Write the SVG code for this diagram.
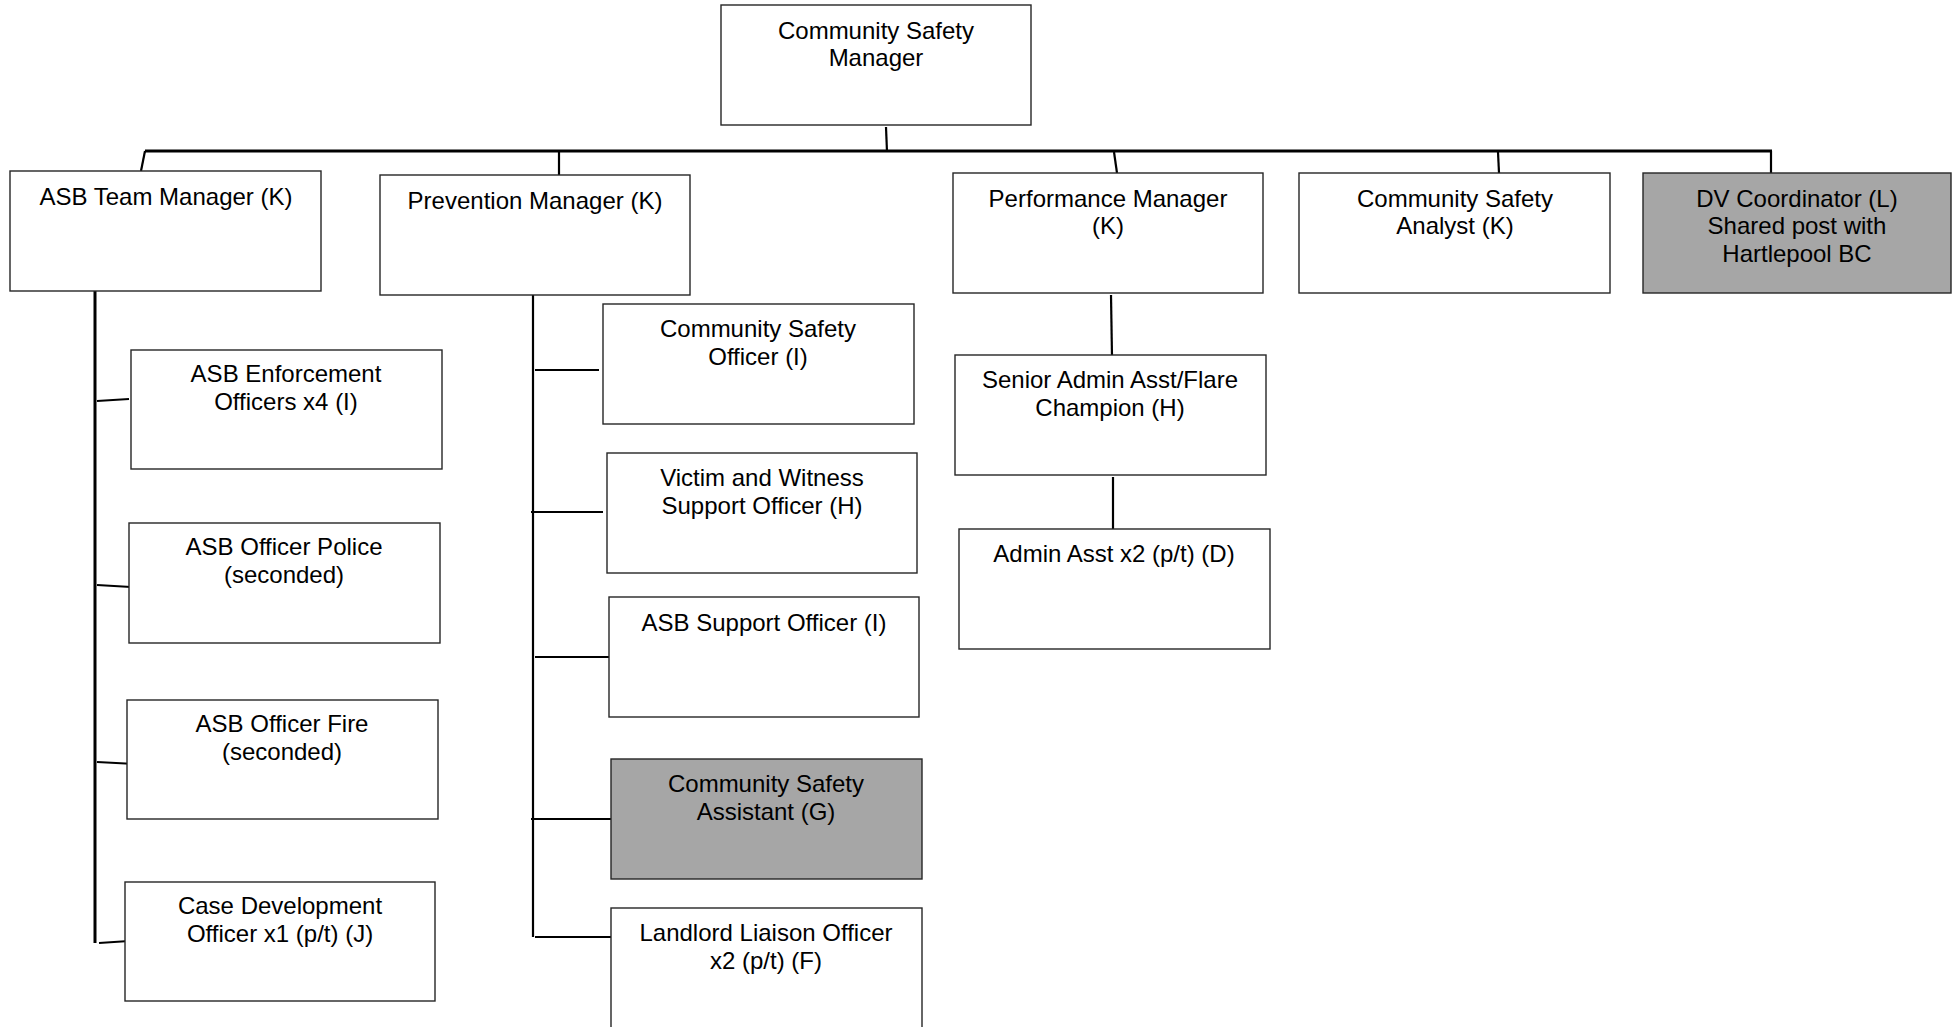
<svg xmlns="http://www.w3.org/2000/svg" width="1957" height="1027" viewBox="0 0 1957 1027">
<style>
.box{fill:#ffffff;stroke:#262626;stroke-width:1.4}
.grey{fill:#a6a6a6;stroke:#262626;stroke-width:1.4}
.lbl{font-family:"Liberation Sans",Arial,sans-serif;font-size:24px;fill:#000;text-anchor:middle}
.ln{stroke:#000;stroke-width:2.2;fill:none}
.bus{stroke:#000;stroke-width:3;fill:none}
</style>
<rect width="1957" height="1027" fill="#ffffff"/>
<g id="connectors">
<line class="ln" x1="886" y1="127" x2="887" y2="152"/>
<line class="bus" x1="145" y1="151" x2="1772" y2="151"/>
<line class="ln" x1="145" y1="151" x2="141" y2="171"/>
<line class="ln" x1="559" y1="152" x2="559" y2="175"/>
<line class="ln" x1="1114" y1="152" x2="1117" y2="173"/>
<line class="ln" x1="1498" y1="152" x2="1499" y2="173"/>
<line class="ln" x1="1771" y1="151" x2="1771" y2="173"/>
<line class="bus" x1="95" y1="291" x2="95" y2="943"/>
<line class="ln" x1="97" y1="401" x2="129" y2="399"/>
<line class="ln" x1="97" y1="585" x2="131" y2="587"/>
<line class="ln" x1="97" y1="762" x2="135" y2="764"/>
<line class="ln" x1="99" y1="943" x2="129" y2="941"/>
<line class="ln" x1="533" y1="295" x2="533" y2="937"/>
<line class="ln" x1="535" y1="370" x2="599" y2="370"/>
<line class="ln" x1="531" y1="512" x2="603" y2="512"/>
<line class="ln" x1="535" y1="657" x2="611" y2="657"/>
<line class="ln" x1="531" y1="819" x2="611" y2="819"/>
<line class="ln" x1="535" y1="937" x2="615" y2="937"/>
<line class="ln" x1="1111" y1="295" x2="1112" y2="357"/>
<line class="ln" x1="1113" y1="477" x2="1113" y2="532"/>
</g>
<g id="n-csm"><rect class="box" x="721" y="5" width="310" height="120"/><text class="lbl" x="876" y="38.5">Community Safety</text><text class="lbl" x="876" y="66">Manager</text></g>
<g id="n-asbtm"><rect class="box" x="10" y="171" width="311" height="120"/><text class="lbl" x="166" y="204.5">ASB Team Manager (K)</text></g>
<g id="n-prev"><rect class="box" x="380" y="175" width="310" height="120"/><text class="lbl" x="535" y="208.5">Prevention Manager (K)</text></g>
<g id="n-perf"><rect class="box" x="953" y="173" width="310" height="120"/><text class="lbl" x="1108" y="206.5">Performance Manager</text><text class="lbl" x="1108" y="234">(K)</text></g>
<g id="n-analyst"><rect class="box" x="1299" y="173" width="311" height="120"/><text class="lbl" x="1455" y="206.5">Community Safety</text><text class="lbl" x="1455" y="234">Analyst (K)</text></g>
<g id="n-dv"><rect class="grey" x="1643" y="173" width="308" height="120"/><text class="lbl" x="1797" y="206.5">DV Coordinator (L)</text><text class="lbl" x="1797" y="234">Shared post with</text><text class="lbl" x="1797" y="261.5">Hartlepool BC</text></g>
<g id="n-asbenf"><rect class="box" x="131" y="350" width="311" height="119"/><text class="lbl" x="286" y="382">ASB Enforcement</text><text class="lbl" x="286" y="410">Officers x4 (I)</text></g>
<g id="n-asbpol"><rect class="box" x="129" y="523" width="311" height="120"/><text class="lbl" x="284" y="555">ASB Officer Police</text><text class="lbl" x="284" y="583">(seconded)</text></g>
<g id="n-asbfire"><rect class="box" x="127" y="700" width="311" height="119"/><text class="lbl" x="282" y="732">ASB Officer Fire</text><text class="lbl" x="282" y="760">(seconded)</text></g>
<g id="n-casedev"><rect class="box" x="125" y="882" width="310" height="119"/><text class="lbl" x="280" y="914">Case Development</text><text class="lbl" x="280" y="942">Officer x1 (p/t) (J)</text></g>
<g id="n-cso"><rect class="box" x="603" y="304" width="311" height="120"/><text class="lbl" x="758" y="337">Community Safety</text><text class="lbl" x="758" y="365">Officer (I)</text></g>
<g id="n-victim"><rect class="box" x="607" y="453" width="310" height="120"/><text class="lbl" x="762" y="486">Victim and Witness</text><text class="lbl" x="762" y="514">Support Officer (H)</text></g>
<g id="n-asbsup"><rect class="box" x="609" y="597" width="310" height="120"/><text class="lbl" x="764" y="631">ASB Support Officer (I)</text></g>
<g id="n-csa"><rect class="grey" x="611" y="759" width="311" height="120"/><text class="lbl" x="766" y="792">Community Safety</text><text class="lbl" x="766" y="820">Assistant (G)</text></g>
<g id="n-landlord"><rect class="box" x="611" y="908" width="311" height="125"/><text class="lbl" x="766" y="941">Landlord Liaison Officer</text><text class="lbl" x="766" y="969">x2 (p/t) (F)</text></g>
<g id="n-senior"><rect class="box" x="955" y="355" width="311" height="120"/><text class="lbl" x="1110" y="388">Senior Admin Asst/Flare</text><text class="lbl" x="1110" y="416">Champion (H)</text></g>
<g id="n-admin"><rect class="box" x="959" y="529" width="311" height="120"/><text class="lbl" x="1114" y="562">Admin Asst x2 (p/t) (D)</text></g>
</svg>
